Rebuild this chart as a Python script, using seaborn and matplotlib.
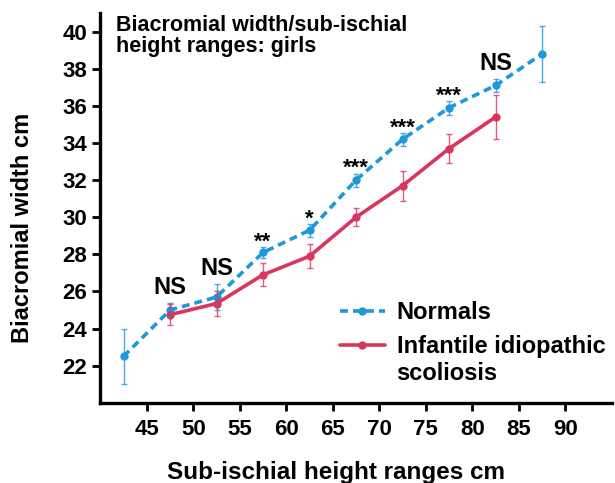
import matplotlib
matplotlib.use("Agg")
import matplotlib.pyplot as plt
import seaborn as sns
import pandas as pd

# height range midpoints (cm)
normal_x = [42.5, 47.5, 52.5, 57.5, 62.5, 67.5, 72.5, 77.5, 82.5, 87.5]
normal_y = [22.5, 25.0, 25.7, 28.1, 29.3, 32.0, 34.2, 35.9, 37.1, 38.8]
normal_err = [1.5, 0.4, 0.7, 0.3, 0.35, 0.35, 0.35, 0.37, 0.36, 1.5]

scol_x = [47.5, 52.5, 57.5, 62.5, 67.5, 72.5, 77.5, 82.5]
scol_y = [24.75, 25.35, 26.9, 27.9, 30.0, 31.7, 33.7, 35.4]
scol_err = [0.55, 0.65, 0.62, 0.65, 0.5, 0.8, 0.8, 1.2]

# significance labels above the normals series
sig_x = [47.5, 52.5, 57.5, 62.5, 67.5, 72.5, 77.5, 82.5]
sig_labels = ["NS", "NS", "**", "*", "***", "***", "***", "NS"]

blue = "#1e98d8"
red = "#d9365e"

sns.set_style("ticks")
plt.rcParams['font.family'] = ['Liberation Sans', 'DejaVu Sans']
plt.rcParams['font.weight'] = 'bold'
for k in ['text.color', 'axes.labelcolor', 'xtick.color', 'ytick.color', 'axes.edgecolor']:
    plt.rcParams[k] = 'black'

df = pd.concat([
    pd.DataFrame({'x': normal_x, 'y': normal_y, 'group': 'Normals'}),
    pd.DataFrame({'x': scol_x, 'y': scol_y, 'group': 'Infantile idiopathic'}),
])

fig = plt.figure(figsize=(6.15, 4.83), dpi=100)
ax = fig.add_axes([0.163, 0.166, 0.832, 0.807])

sns.lineplot(data=df, x='x', y='y', hue='group', style='group',
             palette=[blue, red], dashes=[(2.2, 1.4), ""], markers=['o', 'o'],
             markersize=6, markeredgewidth=0, linewidth=2.6, ax=ax)

ax.errorbar(normal_x, normal_y, yerr=normal_err, fmt='none', ecolor=blue,
            elinewidth=1, capsize=2.5, capthick=1, alpha=0.8)
ax.errorbar(scol_x, scol_y, yerr=scol_err, fmt='none', ecolor=red,
            elinewidth=1, capsize=2.5, capthick=1, alpha=0.8)

# significance marks
for sx, lab in zip(sig_x, sig_labels):
    i = normal_x.index(sx)
    top = normal_y[i] + normal_err[i]
    if lab == "NS":
        ax.text(sx, top + 0.2, lab, ha='center', va='bottom',
                fontsize=17, fontweight='bold')
    else:
        ax.text(sx, top - 0.3, lab, ha='center', va='bottom',
                fontsize=16, fontweight='bold')

ax.set_xlim(40, 95)
ax.set_ylim(20, 41)
ax.set_xticks([45, 50, 55, 60, 65, 70, 75, 80, 85, 90])
ax.set_yticks([22, 24, 26, 28, 30, 32, 34, 36, 38, 40])
ax.tick_params(labelsize=16, width=2, length=6)
ax.tick_params(axis='x', pad=6)
for lab in ax.get_xticklabels() + ax.get_yticklabels():
    lab.set_fontweight('bold')

sns.despine(ax=ax)
for s in ['left', 'bottom']:
    ax.spines[s].set_linewidth(2.4)

ax.set_xlabel("Sub-ischial height ranges cm", fontsize=17.5, fontweight='bold')
ax.set_ylabel("Biacromial width cm", fontsize=17, fontweight='bold')
ax.xaxis.set_label_coords(0.46, -0.15)
ax.yaxis.set_label_coords(-0.13, 0.45)

ax.text(0.03, 0.995, "Biacromial width/sub-ischial\nheight ranges: girls",
        transform=ax.transAxes, ha='left', va='top', fontsize=15.5,
        fontweight='bold', linespacing=1.0)

leg = ax.legend(loc='upper left', bbox_to_anchor=(0.45, 0.285), frameon=False,
                fontsize=17, handlelength=1.9, handletextpad=0.5,
                labelspacing=0.45, borderaxespad=0)
for t in leg.get_texts():
    t.set_fontweight('bold')

# second line of the scoliosis legend label
fig.canvas.draw()
bb = leg.get_texts()[1].get_window_extent()
fig.text(bb.x0 / fig.bbox.width, (bb.y0 - 27) / fig.bbox.height, "scoliosis",
         ha='left', va='bottom', fontsize=17, fontweight='bold')

fig.savefig("out.png", dpi=100)
